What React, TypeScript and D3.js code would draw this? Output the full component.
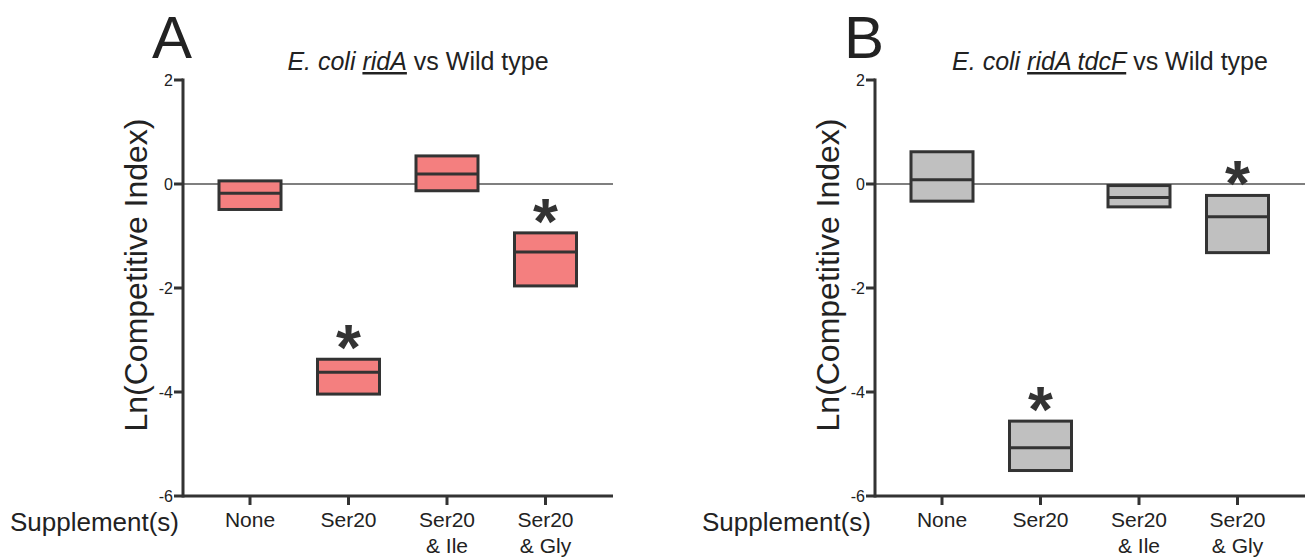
import React from "react";
import * as d3 from "d3";

const categories = ["None", "Ser20", "Ser20|& Ile", "Ser20|& Gly"];
const yTicks = [2, 0, -2, -4, -6];

// panel A: E. coli ridA vs wild type
const ridALow = [-0.49, -4.04, -0.13, -1.96];
const ridAMedian = [-0.18, -3.62, 0.19, -1.31];
const ridAHigh = [0.06, -3.37, 0.54, -0.94];
const ridASig = [false, true, false, true];

// panel B: E. coli ridA tdcF vs wild type
const tdcFLow = [-0.33, -5.51, -0.44, -1.32];
const tdcFMedian = [0.08, -5.07, -0.26, -0.63];
const tdcFHigh = [0.62, -4.56, -0.03, -0.22];
const tdcFSig = [false, true, false, true];

const font = "'Liberation Sans', Arial, Helvetica, sans-serif";
const ink = "#333";

type PanelProps = {
  letter: string;
  axisX: number;
  strain: string;
  low: number[];
  median: number[];
  high: number[];
  sig: boolean[];
  fill: string;
};

const Panel = ({ letter, axisX, strain, low, median, high, sig, fill }: PanelProps) => {
  let y = d3.scaleLinear().domain([-6, 2]).range([496, 80]);
  let x = d3
    .scalePoint<string>()
    .domain(categories)
    .range([axisX + 67, axisX + 67 + 3 * 98.5]);
  let axisEnd = axisX + 430;
  let boxW = 62;

  return (
    <g fontFamily={font}>
      <text x={axisX - 31} y={58} fontSize={60} fill="#222">
        {letter}
      </text>
      <text x={axisX + 235} y={70} fontSize={25} fill="#222" textAnchor="middle">
        <tspan fontStyle="italic">E. coli </tspan>
        <tspan fontStyle="italic" textDecoration="underline">
          {strain}
        </tspan>
        <tspan> vs Wild type</tspan>
      </text>

      {/* zero line */}
      <line x1={axisX} x2={axisEnd} y1={y(0)} y2={y(0)} stroke="#555" strokeWidth={1.5} />

      {/* y axis */}
      <line x1={axisX} x2={axisX} y1={y(2) - 1.5} y2={y(-6) + 1.5} stroke={ink} strokeWidth={3} />
      {yTicks.map((t) => (
        <g key={t}>
          <line x1={axisX - 9} x2={axisX} y1={y(t)} y2={y(t)} stroke={ink} strokeWidth={3} />
          <text x={axisX - 10} y={y(t)} dy="0.35em" fontSize={16} textAnchor="end" fill="#222">
            {t}
          </text>
        </g>
      ))}
      <text
        transform={`translate(${axisX - 36},275) rotate(-90)`}
        fontSize={32}
        textAnchor="middle"
        fill="#222"
      >
        Ln(Competitive Index)
      </text>

      {/* x axis */}
      <line x1={axisX} x2={axisEnd} y1={y(-6)} y2={y(-6)} stroke={ink} strokeWidth={3} />
      {categories.map((c) => (
        <g key={c}>
          <line x1={x(c)} x2={x(c)} y1={y(-6)} y2={y(-6) + 9} stroke={ink} strokeWidth={3} />
          {c.split("|").map((line, i) => (
            <text key={i} x={x(c)} y={527 + i * 26} fontSize={21} textAnchor="middle" fill="#222">
              {line}
            </text>
          ))}
        </g>
      ))}
      <text x={axisX - 4} y={531} fontSize={26} textAnchor="end" fill="#222">
        Supplement(s)
      </text>

      {/* boxes */}
      {categories.map((c, i) => (
        <g key={c}>
          <rect
            x={x(c)! - boxW / 2}
            y={y(high[i])}
            width={boxW}
            height={y(low[i]) - y(high[i])}
            fill={fill}
            stroke={ink}
            strokeWidth={3}
          />
          <line
            x1={x(c)! - boxW / 2}
            x2={x(c)! + boxW / 2}
            y1={y(median[i])}
            y2={y(median[i])}
            stroke={ink}
            strokeWidth={3}
          />
          {sig[i] && (
            <text
              x={x(c)}
              y={y(high[i]) + 11}
              fontSize={64}
              fontWeight="bold"
              textAnchor="middle"
              fill={ink}
            >
              *
            </text>
          )}
        </g>
      ))}
    </g>
  );
};

export default function App() {
  return (
    <svg
      width={1306}
      height={558}
      style={{ position: "absolute", left: 0, top: 0, background: "#fff" }}
    >
      <Panel
        letter="A"
        axisX={183}
        strain="ridA"
        low={ridALow}
        median={ridAMedian}
        high={ridAHigh}
        sig={ridASig}
        fill="#F47F7F"
      />
      <Panel
        letter="B"
        axisX={875}
        strain="ridA tdcF"
        low={tdcFLow}
        median={tdcFMedian}
        high={tdcFHigh}
        sig={tdcFSig}
        fill="#C0C0C0"
      />
    </svg>
  );
}
